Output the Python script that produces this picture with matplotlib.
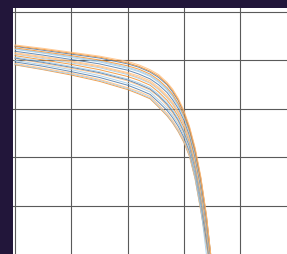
import matplotlib
matplotlib.use("Agg")
import matplotlib.pyplot as plt

# Voltage sample points shared by all curves
voltage = [0.0, 0.5, 1.0, 1.5, 2.0, 2.2, 2.4, 2.55, 2.7, 2.8, 2.9, 3.0, 3.1, 3.2, 3.3, 3.4, 3.5]

# Current curves (bottom to top at V=0)
iv_01 = [2.91, 2.81, 2.70, 2.57, 2.40, 2.31, 2.21, 2.04, 1.86, 1.71, 1.53, 1.31, 1.02, 0.55, -0.10, -0.80, -1.55]
iv_02 = [2.92, 2.82, 2.72, 2.59, 2.42, 2.33, 2.23, 2.06, 1.88, 1.73, 1.55, 1.33, 1.04, 0.57, -0.08, -0.78, -1.54]
iv_03 = [2.94, 2.84, 2.74, 2.61, 2.44, 2.36, 2.26, 2.09, 1.91, 1.76, 1.58, 1.36, 1.07, 0.60, -0.05, -0.75, -1.53]
iv_04 = [2.97, 2.88, 2.77, 2.65, 2.49, 2.40, 2.30, 2.14, 1.97, 1.82, 1.64, 1.41, 1.12, 0.65, 0.01, -0.70, -1.50]
iv_05 = [3.00, 2.91, 2.81, 2.69, 2.53, 2.45, 2.35, 2.19, 2.02, 1.87, 1.69, 1.46, 1.16, 0.62, -0.03, -1.00, -1.90]
iv_06 = [3.04, 2.94, 2.84, 2.73, 2.58, 2.49, 2.39, 2.25, 2.07, 1.92, 1.74, 1.51, 1.21, 0.75, 0.12, -0.61, -1.45]
iv_07 = [3.05, 2.96, 2.86, 2.75, 2.60, 2.51, 2.41, 2.27, 2.10, 1.95, 1.77, 1.53, 1.23, 0.77, 0.14, -0.59, -1.44]
iv_08 = [3.07, 2.98, 2.88, 2.77, 2.62, 2.54, 2.44, 2.30, 2.13, 1.98, 1.80, 1.56, 1.26, 0.80, 0.17, -0.56, -1.43]
iv_09 = [3.10, 3.01, 2.92, 2.81, 2.67, 2.59, 2.49, 2.35, 2.18, 2.03, 1.85, 1.62, 1.31, 0.85, 0.23, -0.51, -1.41]
iv_10 = [3.13, 3.04, 2.95, 2.85, 2.71, 2.63, 2.53, 2.40, 2.23, 2.09, 1.90, 1.67, 1.35, 0.90, 0.28, -0.46, -1.38]
iv_11 = [3.14, 3.06, 2.97, 2.87, 2.73, 2.65, 2.55, 2.42, 2.25, 2.11, 1.92, 1.69, 1.37, 0.92, 0.31, -0.44, -1.37]
iv_12 = [3.16, 3.08, 2.99, 2.89, 2.75, 2.68, 2.58, 2.45, 2.28, 2.14, 1.95, 1.72, 1.40, 0.95, 0.34, -0.42, -1.36]
iv_13 = [3.19, 3.11, 3.02, 2.93, 2.80, 2.72, 2.62, 2.50, 2.34, 2.19, 2.01, 1.77, 1.45, 1.00, 0.39, -0.37, -1.33]
iv_14 = [3.23, 3.15, 3.06, 2.97, 2.84, 2.77, 2.67, 2.55, 2.39, 2.25, 2.06, 1.82, 1.50, 1.05, 0.45, -0.32, -1.31]
iv_15 = [3.24, 3.16, 3.08, 2.99, 2.86, 2.79, 2.69, 2.57, 2.41, 2.27, 2.08, 1.84, 1.52, 1.07, 0.47, -0.30, -1.30]
iv_16 = [3.26, 3.18, 3.10, 3.01, 2.89, 2.82, 2.72, 2.60, 2.44, 2.30, 2.11, 1.87, 1.55, 1.10, 0.50, -0.27, -1.28]
iv_17 = [3.29, 3.21, 3.13, 3.05, 2.93, 2.86, 2.76, 2.65, 2.50, 2.35, 2.17, 1.92, 1.59, 1.15, 0.56, -0.22, -1.26]
iv_18 = [3.30, 3.23, 3.15, 3.07, 2.95, 2.88, 2.78, 2.68, 2.52, 2.38, 2.19, 1.94, 1.61, 1.17, 0.58, -0.20, -1.25]
iv_19 = [3.32, 3.25, 3.17, 3.09, 2.98, 2.91, 2.81, 2.71, 2.55, 2.41, 2.22, 1.97, 1.64, 1.20, 0.61, -0.18, -1.24]

curves = [iv_01, iv_02, iv_03, iv_04, iv_05, iv_06, iv_07, iv_08, iv_09, iv_10,
          iv_11, iv_12, iv_13, iv_14, iv_15, iv_16, iv_17, iv_18, iv_19]
colors = ['#f28e2b', '#a0cbe8', '#ffbe7d', '#4e79a7', '#a0cbe8', '#ffbe7d', '#4e79a7',
          '#a0cbe8', '#f28e2b', '#a0cbe8', '#ffbe7d', '#ffbe7d', '#4e79a7', '#a0cbe8',
          '#a0cbe8', '#f28e2b', '#4e79a7', '#f28e2b', '#ffbe7d']

grid_ticks = [0, 1, 2, 3, 4]

W, H = 287, 255
fig = plt.figure(figsize=(W / 100, H / 100), dpi=100)
fig.patch.set_facecolor('#22163a')

ax = fig.add_axes([13 / W, 0, 1 - 13 / W, 1 - 9 / H])
ax.set_facecolor('white')
for s in ax.spines.values():
    s.set_visible(False)

for ys, c in zip(curves, colors):
    ax.plot(voltage, ys, color=c, lw=0.7, alpha=0.85, zorder=3)

ax.set_xlim(-0.0355, 4.831)
ax.set_ylim(-0.99, 4.082)
ax.set_xticks(grid_ticks)
ax.set_yticks(grid_ticks)
ax.tick_params(length=0, labelbottom=False, labelleft=False)
ax.grid(True, color='#5a5a5a', lw=0.8, zorder=0)
ax.set_axisbelow(True)

fig.savefig('out.png', dpi=100, facecolor=fig.get_facecolor())
